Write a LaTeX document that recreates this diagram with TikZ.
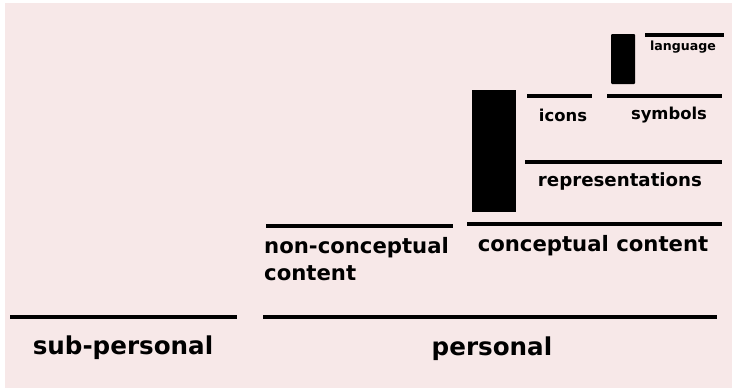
\documentclass[tikz,border=0pt]{standalone}
\usepackage{fontspec}
\setmainfont{DejaVu Sans}
\usepackage{tikz}
\definecolor{paper}{RGB}{247,232,232}
\tikzset{>=latex}
\tikzset{bar/.style={line width=4pt},
  lbl/.style={font=\bfseries\fontsize{#1}{#1}\selectfont, inner sep=0pt}}

\begin{document}
\begin{tikzpicture}[x=1pt,y=-1pt]
\useasboundingbox (0,0) rectangle (732,388);
\fill [white] (0,0) rectangle (732,388);
\fill [paper] (5,3) rectangle (732,388);
% levels
\draw [bar] (10,317) -- (237,317);
\draw [bar] (263,317) -- (717,317);
\node [lbl=24.6] (sub) at (123,348) {sub-personal};
\node [lbl=24.6] (pers) at (492,349) {personal};
% content
\draw [bar] (266,226) -- (453,226);
\draw [bar] (467,224) -- (722,224);
\node [lbl=21.2, anchor=west, align=left] (noncon) at (264,259) {non-conceptual\\[5pt]content};
\node [lbl=21.2] (con) at (593,246) {conceptual content};
% representations
\fill (472,90) rectangle (516,212);
\draw [bar] (525,162) -- (722,162);
\node [lbl=18.2] (repr) at (620,181) {representations};
\draw [bar] (527,96) -- (592,96);
\draw [bar] (607,96) -- (722,96);
\node [lbl=16.4] (icons) at (563,115) {icons};
\node [lbl=16.4] (symb) at (669,115) {symbols};
% language
\fill [rounded corners=1pt] (611,34) rectangle (635,84);
\draw [bar] (645,35) -- (724,35);
\node [lbl=12.6] (lang) at (683,47) {language};
\end{tikzpicture}
\end{document}
